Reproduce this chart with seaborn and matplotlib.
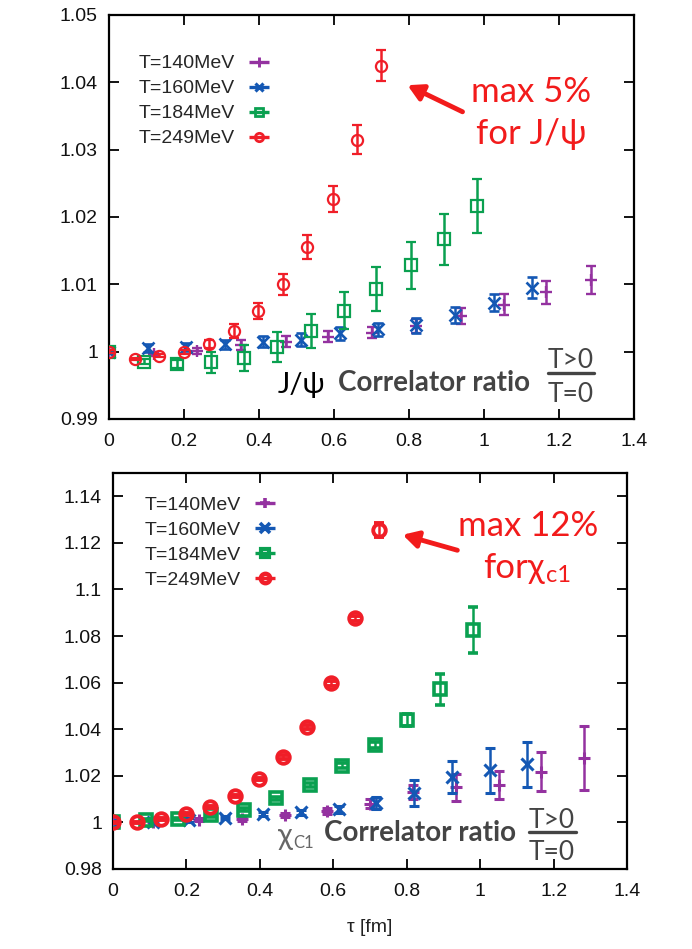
import numpy as np
import matplotlib
matplotlib.use("Agg")
import matplotlib.pyplot as plt
import seaborn as sns
from matplotlib.lines import Line2D

# ---------------- data: J/psi (top panel) ----------------
labels = ["T=140MeV", "T=160MeV", "T=184MeV", "T=249MeV"]
colors = ["#9432a0", "#1458b4", "#0aa050", "#f01e28"]

jpsi_tau_140 = [0.0, 0.121, 0.235, 0.351, 0.471, 0.584, 0.700, 0.819, 0.938, 1.052, 1.166, 1.284]
jpsi_val_140 = [1.0, 0.9997, 1.0001, 1.0010, 1.0015, 1.0022, 1.0028, 1.0038, 1.0053, 1.0070, 1.0088, 1.0106]
jpsi_err_140 = [0.0002, 0.0003, 0.0004, 0.0007, 0.0008, 0.0008, 0.0008, 0.0010, 0.0012, 0.0015, 0.0017, 0.0021]

jpsi_tau_160 = [0.0, 0.105, 0.205, 0.309, 0.411, 0.513, 0.615, 0.717, 0.819, 0.923, 1.026, 1.128]
jpsi_val_160 = [1.0, 1.0005, 1.0007, 1.0011, 1.0015, 1.0018, 1.0027, 1.0033, 1.0039, 1.0055, 1.0073, 1.0095]
jpsi_err_160 = [0.0002, 0.0006, 0.0006, 0.0007, 0.0008, 0.0010, 0.0010, 0.0010, 0.0011, 0.0012, 0.0013, 0.0016]

jpsi_tau_184 = [0.0, 0.093, 0.180, 0.271, 0.359, 0.447, 0.539, 0.626, 0.712, 0.805, 0.892, 0.982]
jpsi_val_184 = [1.0, 0.9985, 0.9982, 0.9984, 0.9991, 1.0007, 1.0031, 1.0061, 1.0093, 1.0128, 1.0167, 1.0216]
jpsi_err_184 = [0.0002, 0.0004, 0.0006, 0.0015, 0.0019, 0.0022, 0.0025, 0.0028, 0.0032, 0.0035, 0.0038, 0.0040]

jpsi_tau_249 = [0.0, 0.069, 0.134, 0.200, 0.266, 0.332, 0.398, 0.463, 0.528, 0.596, 0.660, 0.726]
jpsi_val_249 = [1.0, 0.9989, 0.9994, 1.0000, 1.0011, 1.0031, 1.0061, 1.0100, 1.0156, 1.0227, 1.0315, 1.0425]
jpsi_err_249 = [0.0002, 0.0002, 0.0002, 0.0003, 0.0006, 0.0010, 0.0012, 0.0016, 0.0018, 0.0019, 0.0021, 0.0023]

# ---------------- data: chi_c1 (bottom panel) ----------------
chi_tau_140 = [0.0, 0.110, 0.234, 0.351, 0.468, 0.583, 0.700, 0.818, 0.934, 1.051, 1.167, 1.283]
chi_val_140 = [1.0, 1.0000, 1.0011, 1.0014, 1.0033, 1.0050, 1.0081, 1.0129, 1.0150, 1.0160, 1.0217, 1.0276]
chi_err_140 = [0.0002, 0.0004, 0.0006, 0.0008, 0.0009, 0.0012, 0.0020, 0.0030, 0.0057, 0.0060, 0.0084, 0.0138]

chi_tau_160 = [0.0, 0.110, 0.207, 0.306, 0.409, 0.513, 0.615, 0.717, 0.820, 0.924, 1.027, 1.128]
chi_val_160 = [1.0, 1.0003, 1.0010, 1.0021, 1.0036, 1.0043, 1.0057, 1.0083, 1.0126, 1.0196, 1.0224, 1.0250]
chi_err_160 = [0.0002, 0.0005, 0.0007, 0.0008, 0.0009, 0.0010, 0.0015, 0.0025, 0.0054, 0.0069, 0.0096, 0.0096]

chi_tau_184 = [0.0, 0.090, 0.178, 0.267, 0.358, 0.445, 0.536, 0.623, 0.713, 0.802, 0.892, 0.980]
chi_val_184 = [1.0, 1.0010, 1.0014, 1.0031, 1.0054, 1.0103, 1.0160, 1.0243, 1.0331, 1.0439, 1.0571, 1.0826]
chi_err_184 = [0.0002, 0.0004, 0.0005, 0.0006, 0.0007, 0.0008, 0.0009, 0.0011, 0.0013, 0.0025, 0.0068, 0.0097]

chi_tau_249 = [0.0, 0.066, 0.131, 0.199, 0.265, 0.331, 0.397, 0.462, 0.528, 0.594, 0.659, 0.725]
chi_val_249 = [1.0, 1.0000, 1.0014, 1.0036, 1.0067, 1.0114, 1.0186, 1.0281, 1.0411, 1.0597, 1.0876, 1.1257]
chi_err_249 = [0.0002, 0.0002, 0.0003, 0.0004, 0.0004, 0.0005, 0.0006, 0.0007, 0.0008, 0.0010, 0.0012, 0.0030]

xticks = [0, 0.2, 0.4, 0.6, 0.8, 1.0, 1.2, 1.4]
xtick_labels = ["0", "0.2", "0.4", "0.6", "0.8", "1", "1.2", "1.4"]
top_yticks = [0.99, 1.0, 1.01, 1.02, 1.03, 1.04, 1.05]
top_ytick_labels = ["0.99", "1", "1.01", "1.02", "1.03", "1.04", "1.05"]
bot_yticks = [0.98, 1.0, 1.02, 1.04, 1.06, 1.08, 1.10, 1.12, 1.14]
bot_ytick_labels = ["0.98", "1", "1.02", "1.04", "1.06", "1.08", "1.1", "1.12", "1.14"]

# ---------------- styling ----------------
sns.set_theme(style="ticks")
plt.rcParams["font.family"] = ["Liberation Sans", "DejaVu Sans"]

W, H = 692, 949
fig = plt.figure(figsize=(W / 100, H / 100), dpi=100)
fig.patch.set_facecolor("white")

def px(x, y):
    return x / W, 1 - y / H

ax1 = fig.add_axes([109 / W, 1 - 419 / H, 525 / W, 404 / H])
ax2 = fig.add_axes([113 / W, 1 - 869 / H, 514 / W, 396 / H])

markers = ["+", "x", "s", "o"]

def draw(ax, taus, vals, errs, ms, mew, elw):
    handles = []
    for i in range(4):
        ax.errorbar(taus[i], vals[i], yerr=errs[i], fmt=markers[i], color=colors[i],
                    mfc="none", mec=colors[i], ms=ms[i], mew=mew[i], elinewidth=elw,
                    capsize=3.8, capthick=elw, zorder=3 + i)
        h = ax.errorbar([], [], xerr=[], fmt=markers[i], color=colors[i], mfc="none",
                        mec=colors[i], ms=ms[i] * 0.75, mew=mew[i] + 0.4, elinewidth=elw + 0.6,
                        capsize=4.5, capthick=elw + 0.6)
        handles.append(h)
    return handles

top_taus = [jpsi_tau_140, jpsi_tau_160, jpsi_tau_184, jpsi_tau_249]
top_vals = [jpsi_val_140, jpsi_val_160, jpsi_val_184, jpsi_val_249]
top_errs = [jpsi_err_140, jpsi_err_160, jpsi_err_184, jpsi_err_249]
bot_taus = [chi_tau_140, chi_tau_160, chi_tau_184, chi_tau_249]
bot_vals = [chi_val_140, chi_val_160, chi_val_184, chi_val_249]
bot_errs = [chi_err_140, chi_err_160, chi_err_184, chi_err_249]

h1 = draw(ax1, top_taus, top_vals, top_errs, [9, 8, 8, 8], [1.7, 1.9, 1.6, 1.6], 1.8)
h2 = draw(ax2, bot_taus, bot_vals, bot_errs, [9, 9, 8.5, 9], [2.2, 2.2, 2.6, 2.8], 1.8)

for ax, yt, ytl, ylim in [(ax1, top_yticks, top_ytick_labels, (0.99, 1.05)),
                          (ax2, bot_yticks, bot_ytick_labels, (0.98, 1.15))]:
    ax.set_xlim(0, 1.4)
    ax.set_ylim(*ylim)
    ax.set_xticks(xticks)
    ax.set_xticklabels(xtick_labels)
    ax.set_yticks(yt)
    ax.set_yticklabels(ytl)
    ax.tick_params(direction="in", length=7, width=1.3, top=True, right=True,
                   labelsize=14, colors="black", labelcolor="#111111")
    ax.tick_params(axis="x", pad=10)
    ax.tick_params(axis="y", pad=8)
    for s in ax.spines.values():
        s.set_linewidth(1.6)
        s.set_color("black")
    ax.set_facecolor("white")

ax2.set_xlabel("τ [fm]", fontsize=14, labelpad=14, color="#222222",
               family=["Liberation Sans", "DejaVu Sans"])

for ax, hs, loc in [(ax1, h1, (0.03, 0.935)), (ax2, h2, (0.035, 0.975))]:
    leg = ax.legend(hs, labels, loc="upper left", bbox_to_anchor=loc, frameon=False,
                    markerfirst=False, fontsize=14, handlelength=1.3, handletextpad=0.6,
                    labelspacing=0.38, borderpad=0.2)

# ---------------- annotations ----------------
red = "#f21b1b"
ann_font = ["Lato", "Open Sans", "DejaVu Sans"]
fig.text(*px(531, 92), "max 5%", color=red, fontsize=25, ha="center", va="center", family=ann_font)
fig.text(*px(531, 134), "for J/ψ", color=red, fontsize=25, ha="center", va="center", family=ann_font)
fig.add_artist(matplotlib.patches.FancyArrowPatch(px(465, 113), px(405, 84),
               transform=fig.transFigure, arrowstyle="-|>,head_length=9,head_width=5",
               color=red, lw=3.5, mutation_scale=1))

fig.text(*px(528, 526), "max 12%", color=red, fontsize=25, ha="center", va="center", family=ann_font)
fig.text(*px(545, 568), "forχ", color=red, fontsize=25, ha="right", va="center", family=ann_font)
fig.text(*px(546, 576), "c1", color=red, fontsize=17, ha="left", va="center", family=ann_font)
fig.add_artist(matplotlib.patches.FancyArrowPatch(px(460, 551), px(400, 534),
               transform=fig.transFigure, arrowstyle="-|>,head_length=9,head_width=5",
               color=red, lw=3.5, mutation_scale=1))

gray = "#444444"
# top panel label
fig.text(*px(302, 385), "J/ψ", color="black", fontsize=21, ha="center", va="center", family=ann_font)
fig.text(*px(434, 383), "Correlator ratio", color=gray, fontsize=20, fontweight="bold",
         ha="center", va="center", family=ann_font)
fig.text(*px(571, 361), "T>0", color=gray, fontsize=19, ha="center", va="center", family=ann_font)
fig.text(*px(571, 394), "T=0", color=gray, fontsize=19, ha="center", va="center", family=ann_font)
fig.add_artist(Line2D([548 / W, 594 / W], [1 - 373 / H, 1 - 373 / H], color=gray, lw=2.4,
                      transform=fig.transFigure))

# bottom panel label
fig.text(*px(285, 836), "χ", color="#666666", fontsize=22, ha="center", va="center", family=ann_font)
fig.text(*px(304, 843), "C1", color="#666666", fontsize=12, ha="center", va="center", family=ann_font)
fig.text(*px(420, 833), "Correlator ratio", color=gray, fontsize=20, fontweight="bold",
         ha="center", va="center", family=ann_font)
fig.text(*px(552, 820), "T>0", color=gray, fontsize=19, ha="center", va="center", family=ann_font)
fig.text(*px(552, 853), "T=0", color=gray, fontsize=19, ha="center", va="center", family=ann_font)
fig.add_artist(Line2D([529 / W, 576 / W], [1 - 832 / H, 1 - 832 / H], color=gray, lw=2.4,
                      transform=fig.transFigure))

fig.savefig("out.png", dpi=100)
